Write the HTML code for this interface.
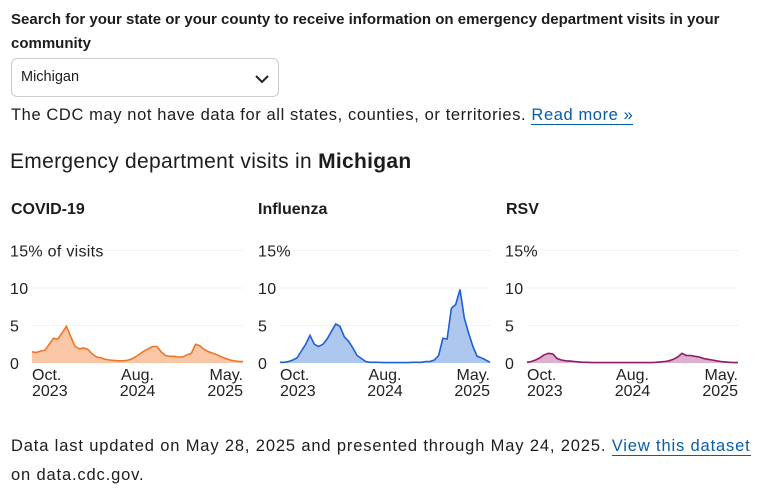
<!DOCTYPE html>
<html><head><meta charset="utf-8">
<style>
body{margin:0;background:#fff;font-family:"Liberation Sans",sans-serif;color:#1c1c1c;width:764px;height:501px;overflow:hidden;position:relative}
.abs{position:absolute;white-space:nowrap}
a{color:#075ea8;text-decoration:none;border-bottom:1.5px solid #075ea8}
</style></head><body>
<div class="abs" style="left:11px;top:8px;font-size:15px;font-weight:bold;line-height:24px;white-space:normal;width:750px">Search for your state or your county to receive information on emergency department visits in your community</div>
<div class="abs" style="left:11px;top:58px;width:268px;height:39px;border:1px solid #ccc;border-radius:6px;box-sizing:border-box">
<span style="position:absolute;left:9px;top:10px;font-size:14.5px">Michigan</span>
<svg style="position:absolute;left:243px;top:15px" width="14" height="10"><path d="M1 2 L7 8 L13 2" stroke="#222" stroke-width="2" fill="none"/></svg>
</div>
<div class="abs" style="left:11px;top:106px;font-size:16.5px;letter-spacing:0.6px">The CDC may not have data for all states, counties, or territories. <a href="#">Read more »</a></div>
<div class="abs" style="left:10px;top:150px;font-size:21px;letter-spacing:0.3px">Emergency department visits in <b>Michigan</b></div>
<div class="abs" style="left:11px;top:201px;font-size:16px;font-weight:bold">COVID-19</div>
<div class="abs" style="left:258px;top:201px;font-size:16px;font-weight:bold">Influenza</div>
<div class="abs" style="left:506px;top:201px;font-size:16px;font-weight:bold">RSV</div>
<svg id="charts" class="abs" style="left:0;top:0" width="764" height="420"></svg>
<div class="abs" style="left:11px;top:432px;font-size:16.5px;line-height:29px;letter-spacing:0.85px">Data last updated on May 28, 2025 and presented through May 24, 2025. <a href="#">View this dataset</a><br>on data.cdc.gov.</div>
<script>
const yTicks=[0,5,10,15];
const xTickLabels=[["Oct.","2023"],["Aug.","2024"],["May.","2025"]];
const covidValues=[1.5,1.4,1.6,1.7,2.5,3.3,3.2,4.0,4.9,3.5,2.2,1.9,2.0,1.8,1.2,0.8,0.7,0.5,0.4,0.35,0.3,0.3,0.35,0.5,0.8,1.2,1.6,1.9,2.2,2.2,1.5,1.0,0.9,0.9,0.8,0.8,1.1,1.3,2.5,2.3,1.8,1.5,1.3,1.1,0.8,0.6,0.4,0.3,0.2,0.2];
const fluValues=[0.1,0.1,0.2,0.4,0.7,1.6,2.5,3.7,2.5,2.2,2.5,3.2,4.2,5.2,4.9,3.5,2.9,2.0,1.0,0.6,0.2,0.1,0.1,0.1,0.05,0.05,0.05,0.05,0.05,0.05,0.05,0.1,0.1,0.1,0.2,0.2,0.4,1.0,3.3,3.2,7.3,7.8,9.8,6.0,4.0,2.2,0.9,0.7,0.4,0.1];
const rsvValues=[0.1,0.2,0.4,0.7,1.1,1.3,1.2,0.6,0.4,0.3,0.25,0.2,0.15,0.1,0.1,0.05,0.05,0.05,0.05,0.05,0.05,0.05,0.05,0.05,0.05,0.05,0.05,0.05,0.05,0.05,0.1,0.15,0.2,0.3,0.5,0.8,1.3,1.0,1.0,0.9,0.8,0.6,0.5,0.4,0.3,0.2,0.15,0.1,0.05,0.05];
const ns="http://www.w3.org/2000/svg",svg=document.getElementById("charts");
function mk(t,a){const e=document.createElementNS(ns,t);for(const k in a)e.setAttribute(k,a[k]);svg.appendChild(e);return e;}
const panels=[{v:covidValues,x0:32,x1:243,lx:10,stroke:"#ee7628",fill:"#f9c7a5",name:"covid",top:"15% of visits"},
{v:fluValues,x0:280,x1:490,lx:258,stroke:"#1e5fd6",fill:"#aec7ef",name:"influenza",top:"15%"},
{v:rsvValues,x0:527,x1:738,lx:505,stroke:"#8f1a6b",fill:"#ddb0cd",name:"rsv",top:"15%"}];
const y=v=>363-v*7.5;
panels.forEach(p=>{
 const x=i=>p.x0+(p.x1-p.x0)*i/(p.v.length-1);
 yTicks.forEach(t=>{
  if(t>0){const g=mk("line",{x1:p.x0,x2:p.x1,y1:y(t),y2:y(t),stroke:"#f2f2f2","stroke-width":1});
  
  }
  const tx=mk("text",{x:p.lx,y:y(t)+6,"font-size":"16","letter-spacing":"0.3","fill":"#222","font-family":"Liberation Sans"});
  tx.textContent=t===15?p.top:String(t);
  
  
 });
 let d="M"+x(0)+" "+y(0);
 p.v.forEach((v,i)=>d+=" L"+x(i).toFixed(1)+" "+y(v).toFixed(1));
 const area=mk("path",{d:d+" L"+x(p.v.length-1)+" "+y(0)+"Z",fill:p.fill});
 
 
 const line=mk("path",{d:"M"+p.v.map((v,i)=>x(i).toFixed(1)+" "+y(v).toFixed(1)).join(" L"),fill:"none",stroke:p.stroke,"stroke-width":1.6});
 
 
 const anchors=["start","middle","end"],xs=[p.x0,(p.x0+p.x1)/2,p.x1];
 xTickLabels.forEach((l,k)=>{
  l.forEach((s,j)=>{
   const t=mk("text",{x:xs[k],y:380+j*16,"font-size":"16","text-anchor":anchors[k],"fill":"#222","font-family":"Liberation Sans"});
   t.textContent=s;
   
   
  });
 });
});
</script>
</body></html>
